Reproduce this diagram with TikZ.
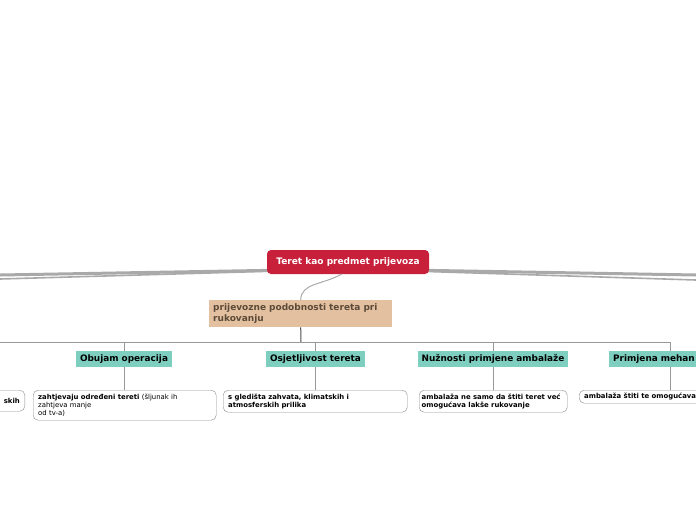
\documentclass[tikz,border=0pt]{standalone}
\usepackage{fontspec}
\setmainfont{DejaVu Sans}
\definecolor{rootred}{HTML}{C8203A}
\definecolor{tanfill}{HTML}{E3C0A0}
\definecolor{tantext}{HTML}{5C4A38}
\definecolor{tealfill}{HTML}{7ECFC0}
\definecolor{branchgrey}{HTML}{A9A9A9}

\begin{document}
\begin{tikzpicture}[x=1pt,y=-1pt,
	rootbox/.style={draw=none,fill=rootred,rounded corners=4,minimum width=162,minimum height=24,inner sep=0,text=white,font=\fontsize{9}{11}\selectfont\bfseries},
	tanbox/.style={fill=tanfill,anchor=north west,text width=175,inner xsep=4,inner ysep=0,minimum height=27,align=left,text=tantext,font=\fontsize{9}{11}\selectfont\bfseries},
	tealbox/.style={fill=tealfill,minimum height=16,inner xsep=4,inner ysep=0,font=\fontsize{8.9}{10}\selectfont\bfseries},
	notebox/.style={draw=black!45,fill=white,rounded corners=5,anchor=north west,align=left,inner xsep=5,inner ysep=3,font=\fontsize{6.9}{8}\selectfont},
	link/.style={draw=black!40,line width=0.8}]
	\useasboundingbox (0,0) rectangle (696,520);
	\clip (0,0) rectangle (696,520);
	\coordinate (l1) at (0,275);
	\coordinate (l2) at (0,279);
	\coordinate (r1) at (696,275);
	\coordinate (r2) at (696,280);
	\coordinate (c) at (348,269);
	\draw[branchgrey,line width=3] (c) -- (l1);
	\draw[branchgrey,line width=1.6] (c) -- (l2);
	\draw[branchgrey,line width=3] (c) -- (r1);
	\draw[branchgrey,line width=1.6] (c) -- (r2);
	\node[rootbox] (1) at (348,262) {Teret kao predmet prijevoza};
	\node[tanbox] (2) at (209,300) {prijevozne podobnosti tereta pri\\rukovanju};
	\coordinate (a) at (342,274);
	\draw[branchgrey,line width=1] (a) .. controls (322,285) and (301,283) .. (2.north);
	% bus
	\coordinate (b) at (301,342);
	\coordinate (bl) at (0,342);
	\coordinate (br) at (670,342);
	\draw[black!70,line width=1] (2.south) -- (b);
	\draw[link] (bl) -- (br);
	\node[tealbox] (3) at (124,359) {Obujam operacija};
	\node[tealbox] (4) at (315.5,359) {Osjetljivost tereta};
	\node[tealbox] (5) at (493,359) {Nužnosti primjene ambalaže};
	\node[tealbox,anchor=west,text width=100,align=left] (6) at (609,359) {Primjena mehan};
	\draw[link] (3.north |- b) -- (3.north);
	\draw[link] (4.north |- b) -- (4.north);
	\draw[link] (5.north |- b) -- (5.north);
	\draw[link] (br) -- (br |- 6.north);
	% notes
	\node[notebox,anchor=north east,text width=40,align=right,minimum height=21] (7) at (25,390) {\textbf{skih}};
	\node[notebox,text width=173,minimum height=30] (8) at (33,390) {\textbf{zahtjevaju određeni tereti} (šljunak ih\\zahtjeva manje\\od tv-a)};
	\node[notebox,text width=174,minimum height=22] (9) at (223,390) {\textbf{s gledišta zahvata, klimatskih i}\\\textbf{atmosferskih prilika}};
	\node[notebox,text width=143,inner xsep=2.5,minimum height=22] (10) at (419,390) {\mbox{\textbf{ambalaža ne samo da štiti teret već}}\\\textbf{omogućava lakše rukovanje}};
	\node[notebox,text width=140,minimum height=13,inner ysep=2] (11) at (579,390) {\textbf{ambalaža štiti te omogućava}};
	\draw[link] (3.south) -- (3.south |- 8.north);
	\draw[link] (4.south) -- (4.south |- 9.north);
	\draw[link] (5.south) -- (5.south |- 10.north);
	\draw[link] (br |- 6.south) -- (br |- 11.north);
\end{tikzpicture}
\end{document}
